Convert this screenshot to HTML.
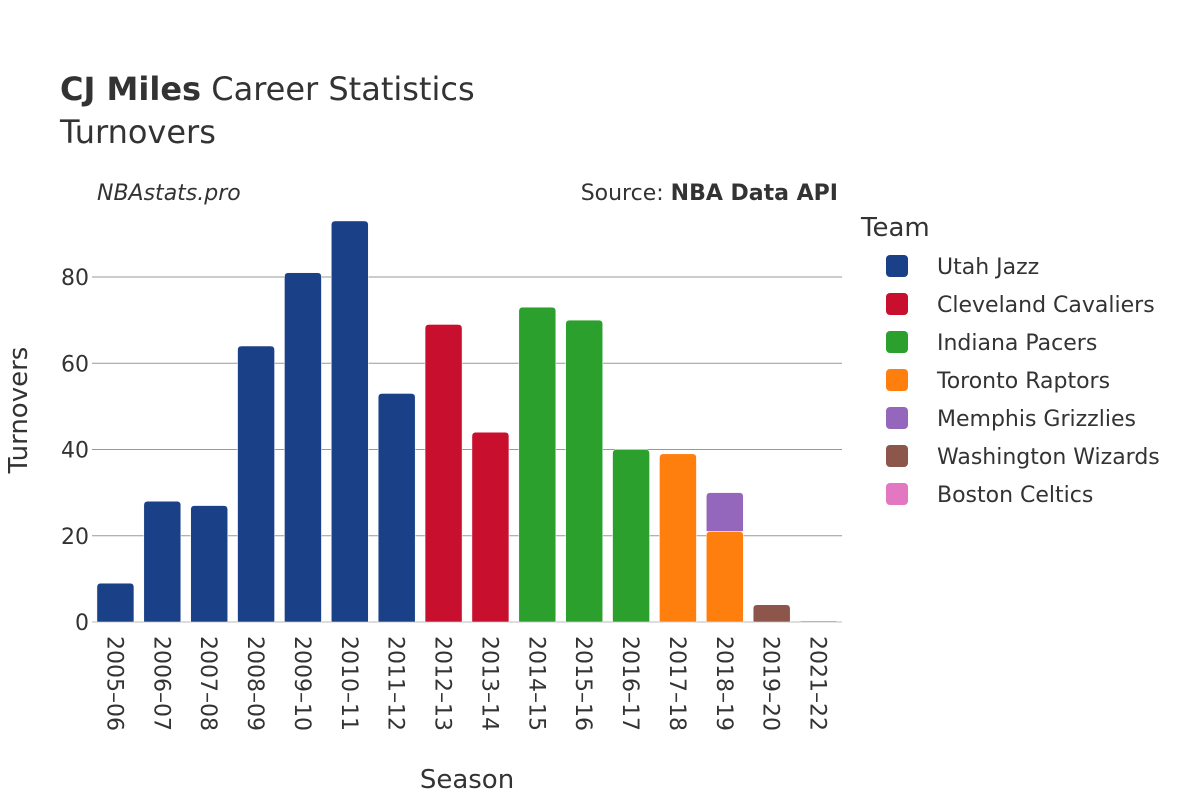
<!DOCTYPE html>
<html><head><meta charset="utf-8"><style>
body{margin:0;background:#fff;font-family:"DejaVu Sans","Liberation Sans",sans-serif;}
svg text{font-family:"DejaVu Sans","Liberation Sans",sans-serif;fill:#333;}
</style></head><body>
<svg id="chart" width="1200" height="800" xmlns="http://www.w3.org/2000/svg">
<text x="60" y="100" font-size="32"><tspan font-weight="bold">CJ Miles</tspan> Career Statistics</text>
<text x="60" y="143" font-size="32">Turnovers</text>
<text x="97" y="200" font-size="22" font-style="italic">NBAstats.pro</text>
<text x="838" y="200" font-size="22" text-anchor="end">Source: <tspan font-weight="bold">NBA Data API</tspan></text>
<g id="grid"></g><g id="bars"></g><g id="xt"></g><g id="yt"></g>
<text x="467" y="788" font-size="26" text-anchor="middle">Season</text>
<text transform="translate(27,410) rotate(-90)" font-size="26" text-anchor="middle">Turnovers</text>
<text x="861" y="236" font-size="26">Team</text>
<g id="legend"></g>
</svg>
<script>
const seasons=["2005–06","2006–07","2007–08","2008–09","2009–10","2010–11","2011–12","2012–13","2013–14","2014–15","2015–16","2016–17","2017–18","2018–19","2019–20","2021–22"];
const teams=["Utah Jazz","Cleveland Cavaliers","Indiana Pacers","Toronto Raptors","Memphis Grizzlies","Washington Wizards","Boston Celtics"];
const colors=["#1a4087","#c8102e","#2ca02c","#ff7f0e","#9467bd","#8c564b","#e377c2"];
const utah=[9,28,27,64,81,93,53,0,0,0,0,0,0,0,0,0];
const cle=[0,0,0,0,0,0,0,69,44,0,0,0,0,0,0,0];
const ind=[0,0,0,0,0,0,0,0,0,73,70,40,0,0,0,0];
const tor=[0,0,0,0,0,0,0,0,0,0,0,0,39,21,0,0];
const mem=[0,0,0,0,0,0,0,0,0,0,0,0,0,9,0,0];
const was=[0,0,0,0,0,0,0,0,0,0,0,0,0,0,4,0];
const bos=[0,0,0,0,0,0,0,0,0,0,0,0,0,0,0,0.3];
const series=[utah,cle,ind,tor,mem,was,bos];
const yTicks=[0,20,40,60,80];
const NS="http://www.w3.org/2000/svg";
const x0=92,x1=842,yBase=622,yScale=(622-277)/80;
const bw=(x1-x0)/seasons.length;
const X=i=>x0+bw*i+bw/2, Y=v=>yBase-v*yScale;
function mk(t,a,p){const e=document.createElementNS(NS,t);for(const k in a)e.setAttribute(k,a[k]);p.appendChild(e);return e;}
const grid=document.getElementById('grid'),yt=document.getElementById('yt');
yTicks.forEach(v=>{const l=mk('line',{x1:x0,x2:x1,y1:Y(v),y2:Y(v),stroke:v?'#999':'#ddd','stroke-width':v?1:2},grid);


const t=mk('text',{x:x0-3,y:Y(v)+8,'font-size':22,'text-anchor':'end'},yt);t.textContent=v;

});
const bars=document.getElementById('bars'),xt=document.getElementById('xt');
seasons.forEach((s,i)=>{let acc=0;const w=37;
series.forEach((ser,k)=>{const v=ser[i];if(!v)return;
const top=Y(acc+v),bot=Y(acc);const r=Math.min(4,(bot-top)/2);
const xl=X(i)-w/2;
const d=`M${xl},${bot}V${top+r}Q${xl},${top} ${xl+r},${top}H${xl+w-r}Q${xl+w},${top} ${xl+w},${top+r}V${bot}Z`;
const p=mk('path',{d:d,fill:colors[k],stroke:'#fff','stroke-width':0.5},bars);


acc+=v;});
const t=mk('text',{transform:`translate(${X(i)-8},636) rotate(90)`,'font-size':22},xt);t.textContent=s;

});
const lg=document.getElementById('legend');
teams.forEach((n,k)=>{const g=mk('g',{},lg);


const y=266+k*38;
mk('rect',{x:886,y:y-11,width:22,height:22,rx:4,fill:colors[k]},g);
const t=mk('text',{x:937,y:y+8,'font-size':22},g);t.textContent=n;});
</script>
</body></html>
